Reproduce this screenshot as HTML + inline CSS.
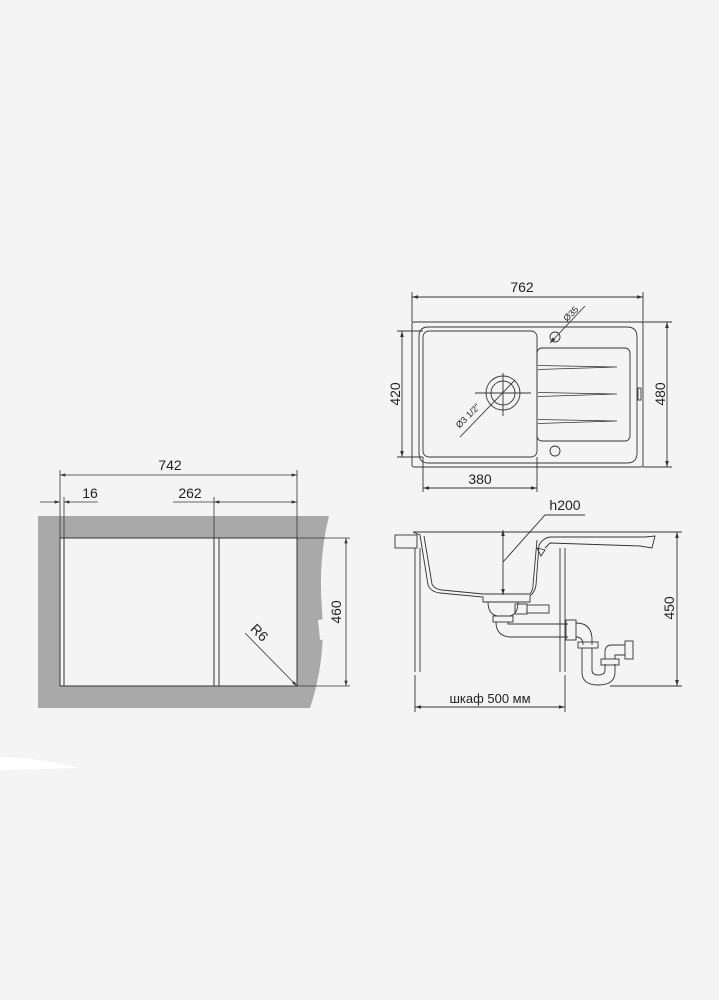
<!DOCTYPE html>
<html><head><meta charset="utf-8"><style>
html,body{margin:0;padding:0;background:#f4f4f4;}
svg{display:block;}
text{font-family:"Liberation Sans",sans-serif;fill:#222;}
</style></head><body>
<svg width="719" height="1000" viewBox="0 0 719 1000" xmlns="http://www.w3.org/2000/svg">
<defs>
<marker id="a" viewBox="0 0 10 6" refX="10" refY="3" markerWidth="8" markerHeight="4" orient="auto-start-reverse"><path d="M0,0L10,3L0,6z" fill="#333"/></marker>
</defs>
<rect width="719" height="1000" fill="#f4f4f4"/>
<path d="M38,516 L329,516 Q318,560 322,610 Q326,660 310,708 L38,708 Z" fill="#a9a9a9"/>
<path d="M318,620 Q345,616 370,618 L372,640 Q345,636 320,640 Z" fill="#f4f4f4"/>
<path d="M0,757 Q40,758 80,768 L0,770 Z" fill="#fff"/>
<rect x="60" y="538" width="237" height="148" fill="#f4f4f4" stroke="#333" stroke-width="1"/>
<line x1="64" y1="538" x2="64" y2="686" stroke="#333"/>
<line x1="214" y1="538" x2="214" y2="686" stroke="#333"/>
<line x1="219" y1="538" x2="219" y2="686" stroke="#333"/>
<g stroke="#333" stroke-width="0.8" fill="none">
<line x1="60" y1="470" x2="60" y2="538"/><line x1="297" y1="470" x2="297" y2="538"/>
<line x1="60" y1="475" x2="297" y2="475" marker-start="url(#a)" marker-end="url(#a)"/>
<line x1="64" y1="497" x2="64" y2="538"/><line x1="214" y1="497" x2="214" y2="538"/>
<line x1="40" y1="502" x2="60" y2="502" marker-end="url(#a)"/>
<line x1="64" y1="502" x2="98" y2="502" marker-start="url(#a)"/>
<line x1="173" y1="502" x2="214" y2="502"/>
<line x1="214" y1="502" x2="297" y2="502" marker-start="url(#a)" marker-end="url(#a)"/>
<line x1="297" y1="538" x2="350" y2="538"/><line x1="297" y1="686" x2="350" y2="686"/>
<line x1="346" y1="538" x2="346" y2="686" marker-start="url(#a)" marker-end="url(#a)"/>
<line x1="245" y1="633" x2="297" y2="686" marker-end="url(#a)"/>
</g>
<text x="170" y="470" font-size="14" text-anchor="middle">742</text>
<text x="90" y="498" font-size="14" text-anchor="middle">16</text>
<text x="190" y="498" font-size="14" text-anchor="middle">262</text>
<text transform="translate(341,612) rotate(-90)" font-size="14" text-anchor="middle">460</text>
<text transform="translate(256,636) rotate(45)" font-size="14" text-anchor="middle">R6</text>

<g stroke="#333" stroke-width="0.9" fill="none">
<rect x="412" y="322" width="231" height="145" rx="2"/>
<path d="M428,327 H627 Q637,327 637,337 V453 Q637,463 627,463 H428 Q419,463 419,453 V337 Q419,327 428,327 Z"/>
<rect x="423" y="331" width="114" height="126" rx="6"/>
<rect x="537" y="348" width="93" height="93" rx="5"/>
<circle cx="555" cy="337" r="5"/><circle cx="555" cy="451" r="5"/>
<circle cx="503" cy="393" r="17"/><circle cx="503" cy="393" r="12"/>
<line x1="475" y1="393" x2="531" y2="393"/><line x1="503" y1="373" x2="503" y2="416"/>
<rect x="638" y="388" width="3" height="12"/>
<line x1="412" y1="292" x2="412" y2="322"/><line x1="643" y1="292" x2="643" y2="322"/>
<line x1="412" y1="297" x2="643" y2="297" marker-start="url(#a)" marker-end="url(#a)"/>
<line x1="643" y1="322" x2="672" y2="322"/><line x1="643" y1="467" x2="672" y2="467"/>
<line x1="667" y1="322" x2="667" y2="467" marker-start="url(#a)" marker-end="url(#a)"/>
<line x1="397" y1="331" x2="423" y2="331"/><line x1="397" y1="457" x2="423" y2="457"/>
<line x1="402" y1="331" x2="402" y2="457" marker-start="url(#a)" marker-end="url(#a)"/>
<line x1="423" y1="457" x2="423" y2="492"/><line x1="537" y1="457" x2="537" y2="492"/>
<line x1="423" y1="488" x2="537" y2="488" marker-start="url(#a)" marker-end="url(#a)"/>
<line x1="585" y1="306" x2="550" y2="343" marker-end="url(#a)"/>
<line x1="460" y1="437" x2="515" y2="380"/>
</g>
<g stroke="#333" stroke-width="0.8" fill="none">
<path d="M538,365.5 L617,367 L538,369.5"/><path d="M538,392.5 L617,394 L538,396.5"/><path d="M538,419.5 L617,421 L538,423.5"/>
</g>
<text x="522" y="292" font-size="14" text-anchor="middle">762</text>
<text x="480" y="484" font-size="14" text-anchor="middle">380</text>
<text transform="translate(400,394) rotate(-90)" font-size="14" text-anchor="middle">420</text>
<text transform="translate(665,394) rotate(-90)" font-size="14" text-anchor="middle">480</text>
<text transform="translate(573,316) rotate(-45)" font-size="9" text-anchor="middle">Ø35</text>
<text transform="translate(470,418) rotate(-45)" font-size="9" text-anchor="middle">Ø3 1/2"</text>

<g stroke="#333" stroke-width="0.9" fill="none">
<rect x="395" y="535" width="22" height="13"/>
<line x1="413" y1="532" x2="643" y2="532"/>
<path d="M413,532 L420,535 L428,585 Q431,592 440,593 L483,597 L483,602 L530,602 L530,596 Q535,592 536,585 L539,545 Q543,538 550,537 L645,537 L655,536 L652,548 L640,546 L550,543 L545,548"/>
<path d="M424,536 L432,584 Q434,589 442,590 L483,594 L530,594 Q533,590 533,585 L537,540"/>
<path d="M537,548 L541,556 L545,550 Z"/>
<line x1="415" y1="548" x2="415" y2="672"/><line x1="420" y1="548" x2="420" y2="672"/>
<line x1="560" y1="548" x2="560" y2="672"/><line x1="565" y1="548" x2="565" y2="672"/>
<line x1="415" y1="675" x2="415" y2="712"/><line x1="565" y1="675" x2="565" y2="712"/>
<line x1="415" y1="707" x2="565" y2="707" marker-start="url(#a)" marker-end="url(#a)"/>
<line x1="643" y1="532" x2="682" y2="532"/><line x1="610" y1="686" x2="682" y2="686"/>
<line x1="677" y1="532" x2="677" y2="686" marker-start="url(#a)" marker-end="url(#a)"/>
<line x1="503" y1="530" x2="503" y2="595" marker-start="url(#a)" marker-end="url(#a)"/>
<polyline points="503,562 545,515 585,515"/>
<path d="M488,602 Q488,614 497,616 L510,616 Q518,614 518,602"/>
<rect x="515" y="604" width="12" height="10"/><rect x="527" y="605" width="22" height="8"/>
<rect x="493" y="616" width="20" height="6"/>
<path d="M496,622 Q496,636 510,637 L568,637 M508,622 L508,624 L568,624"/>
<rect x="566" y="620" width="10" height="20"/>
<path d="M576,623 Q592,623 592,640 L592,645 M576,637 Q583,637 583,645"/>
<rect x="578" y="642" width="20" height="6"/>
<path d="M582,648 L582,672 Q582,685 598,685 Q615,685 615,672 L615,664 M592,648 L592,670 Q592,675 598,675 Q605,675 605,670 L605,664"/>
<rect x="601" y="659" width="18" height="6"/>
<path d="M605,659 L605,652 Q605,645 612,645 L625,645 M615,659 L615,655 L625,655"/>
<rect x="625" y="641" width="8" height="18"/>
</g>
<text x="565" y="510" font-size="14" text-anchor="middle">h200</text>
<text x="490" y="703" font-size="13" text-anchor="middle">шкаф 500 мм</text>
<text transform="translate(674,608) rotate(-90)" font-size="14" text-anchor="middle">450</text>
</svg>
</body></html>
